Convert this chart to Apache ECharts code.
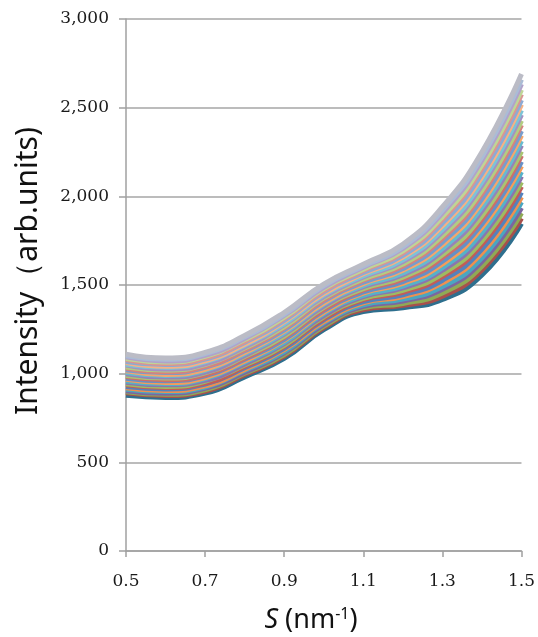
<!DOCTYPE html>
<html>
<head>
<meta charset="utf-8">
<script src="https://cdn.jsdelivr.net/npm/echarts@6/dist/echarts.min.js"></script>
<style>
  html, body { margin: 0; padding: 0; background: #fff; }
  #chart { width: 538px; height: 637px; }
</style>
</head>
<body>
<div id="chart"></div>
<script>
// S values (nm^-1)
const sValues = ['0.5', '0.6', '0.7', '0.8', '0.9', '1.0', '1.1', '1.2', '1.3', '1.4', '1.5'];

// intensity curves, lowest first
const curve01 = [878, 866, 890, 982, 1086, 1248, 1350, 1372, 1418, 1556, 1846];
const curve02 = [892, 877, 901, 994, 1099, 1260, 1362, 1385, 1437, 1585, 1877];
const curve03 = [898, 884, 909, 1002, 1107, 1268, 1371, 1396, 1455, 1606, 1906];
const curve04 = [904, 890, 917, 1008, 1117, 1277, 1380, 1410, 1476, 1633, 1935];
const curve05 = [912, 899, 925, 1018, 1125, 1286, 1388, 1420, 1491, 1653, 1968];
const curve06 = [921, 905, 931, 1024, 1135, 1293, 1399, 1435, 1512, 1681, 1996];
const curve07 = [927, 914, 941, 1034, 1142, 1304, 1406, 1445, 1527, 1702, 2022];
const curve08 = [937, 922, 947, 1040, 1153, 1311, 1417, 1459, 1547, 1729, 2055];
const curve09 = [943, 928, 957, 1049, 1160, 1321, 1424, 1470, 1562, 1749, 2080];
const curve10 = [952, 937, 962, 1055, 1170, 1328, 1435, 1484, 1583, 1776, 2113];
const curve11 = [958, 944, 972, 1065, 1177, 1339, 1442, 1494, 1598, 1797, 2138];
const curve12 = [968, 950, 978, 1071, 1188, 1346, 1454, 1509, 1618, 1824, 2171];
const curve13 = [974, 960, 988, 1081, 1194, 1356, 1461, 1519, 1634, 1844, 2196];
const curve14 = [984, 966, 994, 1087, 1205, 1363, 1472, 1533, 1655, 1871, 2229];
const curve15 = [990, 975, 1004, 1097, 1212, 1374, 1479, 1544, 1670, 1891, 2254];
const curve16 = [1000, 981, 1009, 1103, 1223, 1381, 1490, 1558, 1690, 1919, 2287];
const curve17 = [1006, 990, 1019, 1113, 1230, 1392, 1497, 1568, 1706, 1940, 2312];
const curve18 = [1016, 996, 1025, 1119, 1240, 1398, 1508, 1583, 1727, 1966, 2344];
const curve19 = [1022, 1006, 1035, 1129, 1247, 1409, 1516, 1593, 1742, 1986, 2369];
const curve20 = [1032, 1011, 1041, 1135, 1258, 1416, 1527, 1607, 1763, 2014, 2402];
const curve21 = [1038, 1021, 1051, 1145, 1265, 1427, 1534, 1618, 1778, 2034, 2427];
const curve22 = [1048, 1026, 1056, 1151, 1276, 1434, 1545, 1632, 1799, 2062, 2460];
const curve23 = [1053, 1036, 1066, 1160, 1282, 1444, 1552, 1642, 1813, 2081, 2485];
const curve24 = [1063, 1042, 1072, 1166, 1293, 1451, 1563, 1657, 1834, 2109, 2518];
const curve25 = [1069, 1051, 1082, 1176, 1300, 1462, 1570, 1667, 1849, 2129, 2543];
const curve26 = [1079, 1057, 1088, 1182, 1311, 1469, 1582, 1681, 1870, 2157, 2576];
const curve27 = [1085, 1066, 1098, 1192, 1318, 1480, 1589, 1692, 1885, 2177, 2601];
const curve28 = [1095, 1072, 1103, 1198, 1328, 1486, 1600, 1706, 1906, 2204, 2634];
const curve29 = [1101, 1081, 1113, 1208, 1335, 1497, 1607, 1716, 1921, 2224, 2659];
const curve30 = [1110, 1088, 1120, 1215, 1345, 1505, 1617, 1730, 1940, 2250, 2690];

const curves = [curve01, curve02, curve03, curve04, curve05, curve06, curve07, curve08, curve09, curve10,
  curve11, curve12, curve13, curve14, curve15, curve16, curve17, curve18, curve19, curve20,
  curve21, curve22, curve23, curve24, curve25, curve26, curve27, curve28, curve29, curve30];

// office-like palette, darker at the bottom, paler at the top
const palette = ['#2E6F8E', '#A8504C', '#8FAA55', '#7C66A0', '#4AA6C0', '#EE9050',
  '#5482BC', '#C25C59', '#9DBB62', '#8C74AE', '#55B1C9', '#F59C5A',
  '#6690C6', '#CC6E6B', '#A8C472', '#9782B8', '#66BAD0', '#F5A66C',
  '#779DCD', '#D5827F', '#B3CC82', '#A491C2', '#7CC3D7', '#F7B184',
  '#8DAAD4', '#DA9592', '#BFD596', '#B1A2CA', '#AABCD6', '#BBBCC6'];

const chart = echarts.init(document.getElementById('chart'));

const series = curves.map((c, i) => ({
  type: 'line',
  data: c,
  smooth: 0.5,
  showSymbol: false,
  silent: true,
  lineStyle: { width: 5, color: palette[i] },
  itemStyle: { color: palette[i] }
}));

chart.setOption({
  animation: false,
  backgroundColor: '#fff',
  grid: { left: 126, right: 11, top: 19, bottom: 86 },
  xAxis: {
    type: 'category',
    data: sValues,
    boundaryGap: false,
    axisLine: { lineStyle: { color: '#a0a0a0', width: 1.5 } },
    axisTick: { show: true, interval: 1, length: 6, lineStyle: { color: '#a0a0a0', width: 1.5 } },
    axisLabel: {
      interval: 1, margin: 22,
      fontFamily: 'DejaVu Serif', fontSize: 17, color: '#1a1a1a'
    },
    splitLine: { show: false }
  },
  yAxis: {
    type: 'value',
    min: 0, max: 3000, interval: 500,
    axisLine: { show: true, lineStyle: { color: '#a0a0a0', width: 1.5 } },
    axisTick: { show: true, length: 7, lineStyle: { color: '#a0a0a0', width: 1.5 } },
    axisLabel: {
      margin: 17,
      fontFamily: 'DejaVu Serif', fontSize: 17, color: '#1a1a1a',
      formatter: v => v.toLocaleString('en-US')
    },
    splitLine: { show: true, lineStyle: { color: '#a6a6a6', width: 1.5 } }
  },
  graphic: [
    {
      type: 'text',
      x: 28, y: 271,
      rotation: Math.PI / 2,
      style: {
        text: 'Intensity（arb.units)',
        fontFamily: 'Noto Sans', fontSize: 30,
        fill: '#111',
        align: 'center', verticalAlign: 'middle'
      }
    },
    {
      type: 'text',
      x: 311, y: 620,
      style: {
        text: '{i|S} (nm{sup|-1})',
        fontFamily: 'Noto Sans', fontSize: 27,
        fill: '#111',
        align: 'center', verticalAlign: 'middle',
        rich: {
          i: { fontFamily: 'Noto Sans', fontStyle: 'italic', fontSize: 27, fill: '#111' },
          sup: { fontFamily: 'Noto Sans', fontSize: 16, fill: '#111', verticalAlign: 'top', padding: [0, 0, 12, 0] }
        }
      }
    }
  ],
  series: series
});

window.addEventListener('resize', () => chart.resize());
</script>
</body>
</html>
